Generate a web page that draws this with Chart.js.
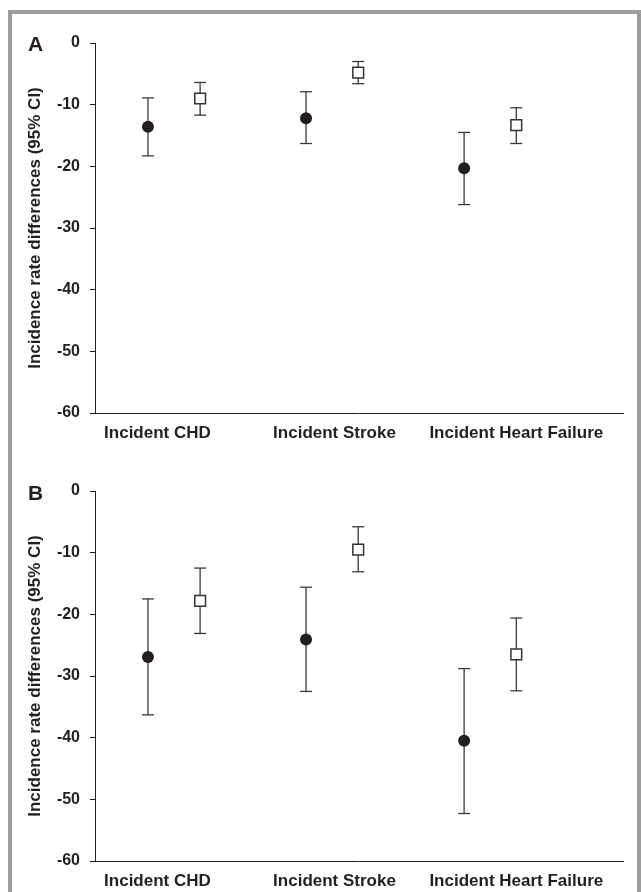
<!DOCTYPE html>
<html>
<head>
<meta charset="utf-8">
<script src="https://cdn.jsdelivr.net/npm/chart.js@4"></script>
<style>
  body { margin: 0; background: #fff; }
  .frame { position: absolute; left: 8px; top: 10px; width: 633px; height: 882px;
           border: 4px solid #9d9d9f; border-bottom: none; box-sizing: border-box; }
  .panel { position: absolute; left: 0; }
  .letter { position: absolute; left: 28px; font: bold 21px/21px 'Liberation Sans', Arial, sans-serif; color: #231f20; }
</style>
</head>
<body>
<div class="frame"></div>
<canvas id="chart-a" class="panel" width="641" height="440" style="top:0px"></canvas>
<canvas id="chart-b" class="panel" width="641" height="440" style="top:448px"></canvas>
<div class="letter" style="top:33px">A</div>
<div class="letter" style="top:482px">B</div>
<script>
// categories and values
const categories = ['Incident CHD', 'Incident Stroke', 'Incident Heart Failure'];

// panel A
const aCircleEst = [-13.6, -12.2, -20.3];
const aCircleLo  = [-18.3, -16.3, -26.2];
const aCircleHi  = [-8.9, -7.9, -14.5];
const aSquareEst = [-9.0, -4.8, -13.3];
const aSquareLo  = [-11.7, -6.6, -16.3];
const aSquareHi  = [-6.4, -3.0, -10.5];

// panel B
const bCircleEst = [-26.9, -24.1, -40.5];
const bCircleLo  = [-36.3, -32.5, -52.3];
const bCircleHi  = [-17.5, -15.6, -28.8];
const bSquareEst = [-17.8, -9.5, -26.5];
const bSquareLo  = [-23.1, -13.1, -32.4];
const bSquareHi  = [-12.5, -5.8, -20.6];

const yTicks = { min: -60, max: 0, step: 10 };

Chart.defaults.font.family = "'Liberation Sans', Arial, sans-serif";
Chart.defaults.color = '#231f20';

const INK = '#231f20';
const groupCenter = [0.5, 1.5, 2.5];
const dodge = 0.165;
const labelAt = [0.395, 1.515, 2.665];

function points(est, off) {
    return est.map((v, i) => ({ x: groupCenter[i] + off, y: v }));
}

// whiskers: hi -> lo per category, broken by null gaps
function whiskers(lo, hi, off) {
    const out = [];
    lo.forEach((l, i) => {
        const x = groupCenter[i] + off;
        out.push({ x: x, y: hi[i] }, { x: x, y: l }, { x: x, y: null });
    });
    return out;
}

function makePanel(id, cEst, cLo, cHi, sEst, sLo, sHi) {
    const ctx = document.getElementById(id).getContext('2d');
    return new Chart(ctx, {
        type: 'scatter',
        data: {
            datasets: [
                {
                    data: points(cEst, -dodge),
                    pointStyle: 'circle',
                    pointRadius: 6,
                    backgroundColor: INK,
                    borderColor: INK,
                    borderWidth: 0
                },
                {
                    data: points(sEst, dodge),
                    pointStyle: 'rect',
                    pointRadius: 7.6,
                    backgroundColor: '#ffffff',
                    borderColor: '#333333',
                    borderWidth: 1.5
                },
                {
                    data: whiskers(cLo, cHi, -dodge),
                    showLine: true,
                    spanGaps: false,
                    borderColor: '#3a3a3a',
                    borderWidth: 1.3,
                    pointStyle: 'line',
                    pointRadius: 6,
                    pointBorderColor: '#3a3a3a',
                    pointBorderWidth: 1.3
                },
                {
                    data: whiskers(sLo, sHi, dodge),
                    showLine: true,
                    spanGaps: false,
                    borderColor: '#3a3a3a',
                    borderWidth: 1.3,
                    pointStyle: 'line',
                    pointRadius: 6,
                    pointBorderColor: '#3a3a3a',
                    pointBorderWidth: 1.3
                }
            ]
        },
        options: {
            responsive: false,
            animation: false,
            layout: { padding: { top: 43, right: 18, left: 0, bottom: 0 } },
            plugins: { legend: { display: false }, tooltip: { enabled: false } },
            scales: {
                x: {
                    type: 'linear',
                    min: 0,
                    max: 3.34,
                    grid: { display: false },
                    border: { display: true, color: INK, width: 1 },
                    afterBuildTicks: s => { s.ticks = labelAt.map(v => ({ value: v })); },
                    afterFit: s => { s.height = 27; },
                    ticks: {
                        autoSkip: false,
                        maxRotation: 0,
                        padding: 2,
                        color: INK,
                        font: { size: 17, weight: 'bold' },
                        callback: (v, i) => categories[i]
                    }
                },
                y: {
                    min: yTicks.min,
                    max: yTicks.max,
                    grid: { display: true, drawOnChartArea: false, drawTicks: true, tickLength: 5, color: INK, lineWidth: 1 },
                    border: { display: true, color: INK, width: 1 },
                    afterFit: s => { s.width = 95; },
                    ticks: {
                        stepSize: yTicks.step,
                        padding: 10,
                        color: INK,
                        font: { size: 16, weight: 'bold' }
                    },
                    title: {
                        display: true,
                        text: 'Incidence rate differences (95% CI)',
                        color: INK,
                        font: { size: 17, weight: 'bold' },
                        padding: { top: 25, bottom: 0 }
                    }
                }
            }
        }
    });
}

makePanel('chart-a', aCircleEst, aCircleLo, aCircleHi, aSquareEst, aSquareLo, aSquareHi);
makePanel('chart-b', bCircleEst, bCircleLo, bCircleHi, bSquareEst, bSquareLo, bSquareHi);
</script>
</body>
</html>
